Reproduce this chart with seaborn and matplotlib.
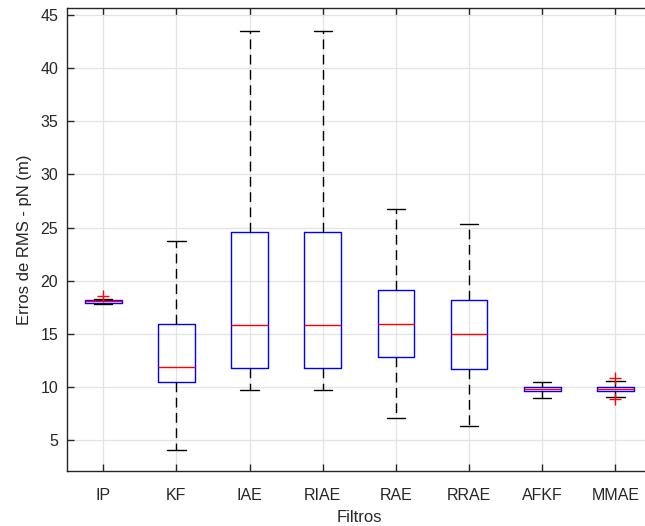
import numpy as np
import pandas as pd
import matplotlib
matplotlib.use("Agg")
import matplotlib.pyplot as plt
import seaborn as sns

# Box statistics per filter (RMS error, metres)
filters = ["IP", "KF", "IAE", "RIAE", "RAE", "RRAE", "AFKF", "MMAE"]
whisker_low = [17.85, 4.1, 9.7, 9.7, 7.1, 6.3, 9.02, 9.1]
q1 = [17.95, 10.5, 11.8, 11.8, 12.8, 11.7, 9.6, 9.62]
median = [18.05, 11.9, 15.8, 15.8, 15.9, 15.0, 9.8, 9.85]
q3 = [18.15, 15.9, 24.6, 24.6, 19.1, 18.2, 10.0, 10.05]
whisker_high = [18.3, 23.7, 43.5, 43.5, 26.7, 25.3, 10.5, 10.55]
outlier_low = [None, None, None, None, None, None, None, 8.85]
outlier_high = [18.55, None, None, None, None, None, None, 10.85]

# Nine-point samples whose quartiles, whiskers and outliers reproduce the stats above
rows = []
for i, name in enumerate(filters):
    lo = outlier_low[i] if outlier_low[i] is not None else whisker_low[i]
    hi = outlier_high[i] if outlier_high[i] is not None else whisker_high[i]
    sample = [lo, whisker_low[i], q1[i], q1[i], median[i], q3[i], q3[i],
              whisker_high[i], hi]
    rows += [(name, v) for v in sample]
df = pd.DataFrame(rows, columns=["Filtro", "RMS"])

sns.set_theme(style="white")
plt.rcParams["font.family"] = ["Liberation Sans", "DejaVu Sans"]

fig = plt.figure(figsize=(6.45, 5.26), dpi=100)
ax = fig.add_axes([0.1034, 0.1046, 0.9074, 0.880])

dark = "#262626"
sns.boxplot(
    data=df, x="Filtro", y="RMS", order=filters, ax=ax,
    width=0.5, fill=False, color="blue", linewidth=1.0,
    boxprops=dict(color="blue", linewidth=1.0),
    medianprops=dict(color="red", linewidth=1.0),
    whiskerprops=dict(color="black", linestyle=(0, (7, 4)), linewidth=1.0),
    capprops=dict(color="black", linewidth=1.0),
    flierprops=dict(marker="+", markeredgecolor="red", markersize=8,
                    markeredgewidth=1.0),
)

ax.set_xlim(-0.5, 7.5)
ax.set_ylim(2.115, 45.63)
ax.set_yticks(np.arange(5, 46, 5))

ax.grid(True, color="#e3e3e3", linewidth=0.9)
ax.set_axisbelow(True)

for sp in ax.spines.values():
    sp.set_visible(True)
    sp.set_color(dark)
    sp.set_linewidth(1.0)

ax.tick_params(axis="both", which="both", direction="in", length=5,
               width=1.0, color=dark, labelcolor=dark, labelsize=11.5,
               top=True, right=True, bottom=True, left=True)
ax.tick_params(axis="x", pad=12)
ax.tick_params(axis="y", pad=6)

ax.set_xlabel("Filtros", fontsize=12, color=dark, labelpad=5)
ax.set_ylabel("Erros de RMS - pN (m)", fontsize=12, color=dark, labelpad=6)

fig.savefig("out.png", dpi=100)
